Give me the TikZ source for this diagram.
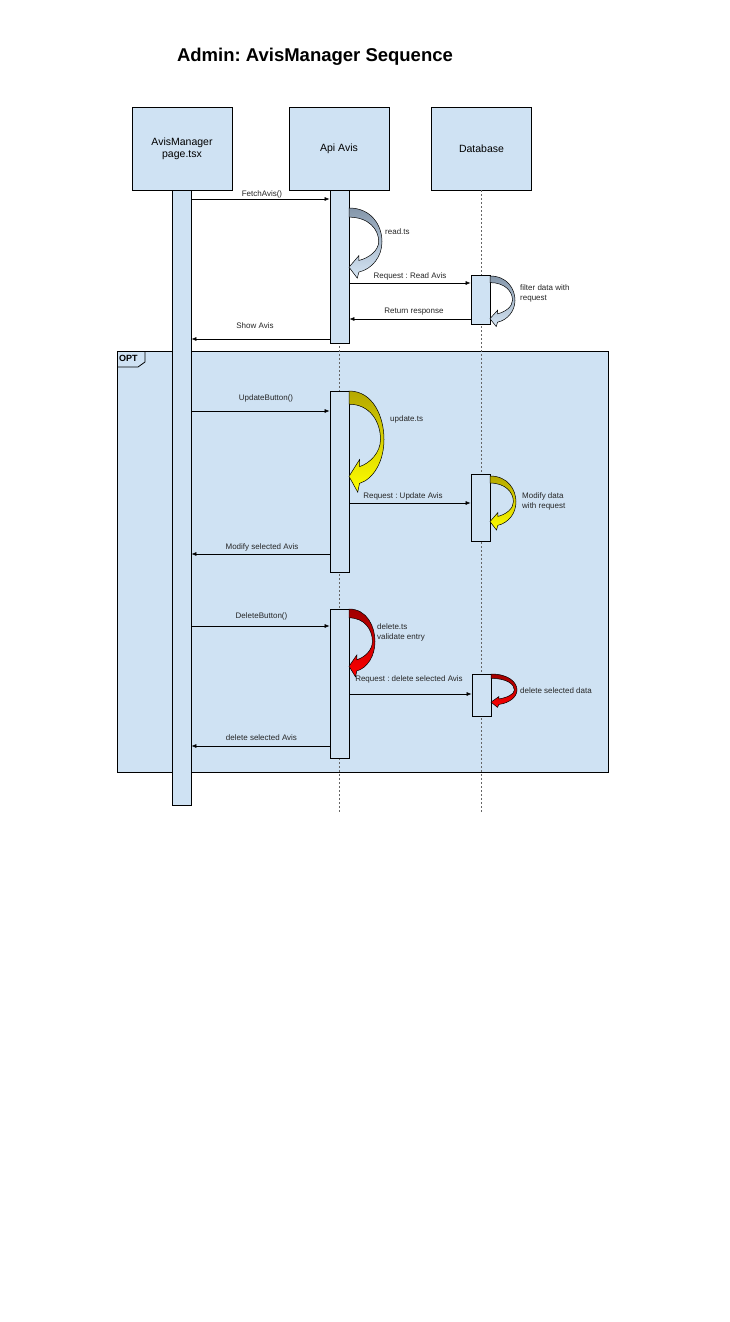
\documentclass[tikz,border=0pt]{standalone}
\usepackage{fontspec}
\setmainfont{Liberation Sans}
\usetikzlibrary{arrows.meta}
\frenchspacing
\definecolor{boxblue}{HTML}{CFE2F3}
\definecolor{lifegray}{HTML}{666666}
\definecolor{readtop}{HTML}{8496AA}
\definecolor{readbot}{HTML}{D6E6F5}
\definecolor{updtop}{HTML}{B5A800}
\definecolor{updbot}{HTML}{FFFF00}
\definecolor{deltop}{HTML}{A00000}
\definecolor{delbot}{HTML}{FF0000}

\begin{document}
\begin{tikzpicture}[x=1pt,y=-1pt,
    box/.style={draw,fill=boxblue,line width=0.8pt,minimum width=100pt,
      minimum height=83pt,inner sep=0pt,align=center,
      font=\fontsize{10.5}{12}\selectfont},
    bar/.style={draw,fill=boxblue,line width=0.8pt,minimum width=19pt,
      inner sep=0pt},
    msg/.style={-{Latex[length=5pt,width=4pt]},line width=0.6pt},
    life/.style={draw=lifegray,line width=0.6pt,dash pattern=on 2pt off 2pt},
    lbl/.style={inner sep=0pt,text=black!85,font=\fontsize{8}{9.5}\selectfont},
    note/.style={lbl,anchor=west,align=left},
    pics/selfcall/.style 2 args={code={
      \path[draw,line width=0.5pt,top color=#1,bottom color=#2]
        (0,0) .. controls (0.7,0) and (1,0.3) .. (1,0.55)
        .. controls (1,0.8) and (0.7,1) .. (0.3,1.05) -- (0.25,1.15)
        -- (0,0.97) -- (0.3,0.78) -- (0.3,0.86)
        .. controls (0.6,0.82) and (0.9,0.7) .. (0.9,0.55)
        .. controls (0.9,0.35) and (0.6,0.15) .. (0,0.15) -- cycle;
    }}]
  \path[fill=white,use as bounding box] (0,0) rectangle (729,1322);

  \node[font=\bfseries\fontsize{18.5}{22}\selectfont] (title) at (315,57)
    {Admin: AvisManager Sequence};

  % opt frame
  \node[draw,fill=boxblue,line width=0.8pt,minimum width=491pt,
    minimum height=421pt,inner sep=0pt] (optframe) at (362.5,561.5) {};
  \draw[line width=0.8pt] (145,351) -- (145,362) -- (138,367) -- (117,367);
  \node[anchor=west,inner sep=0pt,font=\bfseries\fontsize{9}{10}\selectfont]
    (opt) at (119,358) {OPT};

  % participants
  \node[box] (manager) at (182,148.5) {AvisManager\\page.tsx};
  \node[box] (api) at (339,148.5) {Api Avis};
  \node[box] (db) at (481.5,148.5) {Database};

  \coordinate (apiend) at (339,812);
  \coordinate (dbend) at (481.5,812);
  \draw[life] (api.south) -- (apiend);
  \draw[life] (db.south) -- (dbend);

  % activations
  \node[bar,minimum height=615pt] (mbar) at (181.5,497.5) {};
  \node[bar,minimum height=153pt] (abar1) at (339.5,266.5) {};
  \node[bar,minimum height=181pt] (abar2) at (339.5,481.5) {};
  \node[bar,minimum height=149pt] (abar3) at (339.5,683.5) {};
  \node[bar,minimum height=49pt] (dbar1) at (480.5,299.5) {};
  \node[bar,minimum height=67pt] (dbar2) at (480.5,507.5) {};
  \node[bar,minimum height=42pt] (dbar3) at (481.5,695) {};

  % messages
  \foreach \a/\b/\y/\t/\lx/\ly [count=\i] in {
      mbar/abar1/199/FetchAvis()/262/194,
      abar1/dbar1/283/Request : Read Avis/410/276,
      mbar/abar2/411/UpdateButton()/266/398,
      abar2/dbar2/503/Request : Update Avis/403/496,
      mbar/abar3/626/DeleteButton()/261.5/616,
      abar3/dbar3/694/Request : delete selected Avis/409/679}
    \draw[msg] (\a.east |- 0,\y) -- (\b.west |- 0,\y)
      node[lbl] (go\i) at (\lx,\ly) {\t};
  \foreach \a/\b/\y/\t/\lx/\ly [count=\i] in {
      dbar1/abar1/319/Return response/414/312,
      abar1/mbar/339/Show Avis/255/326,
      abar2/mbar/554/Modify selected Avis/262/547,
      abar3/mbar/746/delete selected Avis/261.5/738}
    \draw[msg] (\a.west |- 0,\y) -- (\b.east |- 0,\y)
      node[lbl] (back\i) at (\lx,\ly) {\t};

  % self calls
  \pic[xscale=33,yscale=61] at (349,208) {selfcall={readtop}{readbot}};
  \pic[xscale=25,yscale=44] at (490,276) {selfcall={readtop}{readbot}};
  \pic[xscale=35,yscale=88] at (349,391) {selfcall={updtop}{updbot}};
  \pic[xscale=26,yscale=47] at (490,476) {selfcall={updtop}{updbot}};
  \pic[xscale=26,yscale=59] at (349,609) {selfcall={deltop}{delbot}};
  \pic[xscale=26,yscale=29] at (491,674) {selfcall={deltop}{delbot}};

  \node[note] (readnote) at (385,232) {read.ts};
  \node[note] (filternote) at (520,293.5) {filter data with\\request};
  \node[note] (updnote) at (390,419) {update.ts};
  \node[note] (modnote) at (522,501.5) {Modify data\\with request};
  \node[note] (delnote) at (377,632.5) {delete.ts\\validate entry};
  \node[note] (deldatanote) at (520,691) {delete selected data};
\end{tikzpicture}
\end{document}
